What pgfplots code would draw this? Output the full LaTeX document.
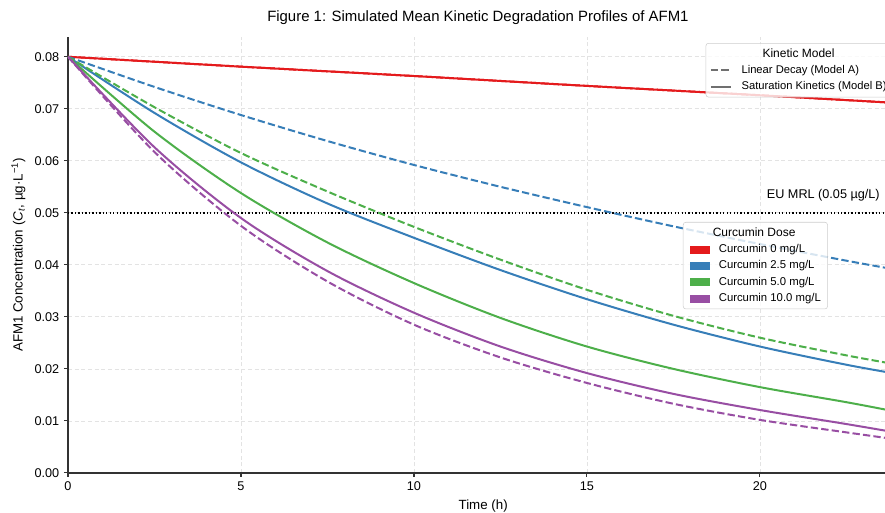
\documentclass[border=0pt]{standalone}
\usepackage{fontspec}
\setmainfont{Liberation Sans}
\usepackage{pgfplots}
\pgfplotsset{compat=1.18}
\usetikzlibrary{calc}

\definecolor{cred}{HTML}{E41A1C}
\definecolor{cblue}{HTML}{377EB8}
\definecolor{cgreen}{HTML}{4DAF4A}
\definecolor{cpurple}{HTML}{984EA3}
\definecolor{axisgray}{HTML}{333333}
\definecolor{leggray}{HTML}{CCCCCC}
\definecolor{handlegray}{HTML}{707070}

\pgfplotsset{
  base/.style={width=622.8pt, height=327pt, scale only axis,
    xmin=0, xmax=24, ymin=0, ymax=0.0838, at={(0,0)}, anchor=south west},
  modelA/.style={line width=1.5pt, dash pattern=on 5.5pt off 2.4pt},
  modelB/.style={line width=1.5pt},
  legbox/.style={draw=leggray, fill=white, fill opacity=0.8, text opacity=1,
    draw opacity=1, rounded corners=2pt, inner ysep=2pt,
    row sep=0.6pt, font=\fontsize{8.5}{10}\selectfont},
}

\begin{document}
\begin{tikzpicture}
\begin{axis}[base, name=main,
  axis lines=left, axis line style={-, line width=0.9pt, color=axisgray},
  tick align=outside, major tick length=3pt,
  tick style={line width=0.8pt, color=axisgray},
  xtick={0,5,10,15,20},
  ytick={0,0.01,0.02,0.03,0.04,0.05,0.06,0.07,0.08},
  scaled y ticks=false,
  yticklabel style={/pgf/number format/fixed, /pgf/number format/fixed zerofill,
    /pgf/number format/precision=2},
  /pgf/number format/assume math mode=true,
  tick label style={font=\fontsize{9.5}{11}\selectfont},
  grid=major, grid style={dash pattern=on 3pt off 2pt, color=gray!22, line width=0.6pt},
  xlabel={Time (h)},
  ylabel={AFM1 Concentration (\textit{C}\textsubscript{\textit{t}}, µg·L\textsuperscript{−1})},
  label style={font=\fontsize{10}{12}\selectfont},
  title={Figure 1: Simulated Mean Kinetic Degradation Profiles of AFM1},
  title style={font=\fontsize{11.2}{13}\selectfont, at={(0.4937,1)}, yshift=-0.5pt},
  legend style={legbox, font=\fontsize{8.4}{10}\selectfont, inner xsep=3pt, column sep=5.25pt,
    at={(0.9942,0.9862)}, anchor=north east},
  legend cell align=left,
  legend image code/.code={\draw[#1, draw opacity=1, sharp corners] (0pt,0pt) -- (15pt,0pt);},
]
% threshold
\addplot[forget plot, black, line width=1.1pt, dash pattern=on 1pt off 1.6pt]
  coordinates {(0,0.05) (24,0.05)};
\node[anchor=base east, inner sep=0pt, font=\fontsize{9.5}{11}\selectfont]
  at (axis cs:23.47,0.0527) {EU MRL (0.05 µg/L)};

% Curcumin 0 mg/L
\addplot[forget plot, cred, modelA, smooth] coordinates {
  (0,0.0800) (5,0.0781) (10,0.0763) (15,0.0744) (20,0.0726) (24,0.0711)};
\addplot[forget plot, cred, modelB, smooth] coordinates {
  (0,0.0800) (5,0.0781) (10,0.0763) (15,0.0744) (20,0.0726) (24,0.0711)};

% Curcumin 2.5 mg/L
\addplot[forget plot, cblue, modelA, smooth] coordinates {
  (0,0.0800) (2.5,0.0742) (5,0.0688) (7.5,0.0638) (10,0.0592) (12.5,0.0550)
  (15,0.0511) (17.5,0.0474) (20,0.0440) (22.5,0.0408) (24,0.0390)};
\addplot[forget plot, cblue, modelB, smooth] coordinates {
  (0,0.0800) (2.5,0.0692) (5,0.0597) (7.5,0.0518) (10,0.0452) (12.5,0.0390)
  (15,0.0334) (17.5,0.0285) (20,0.0243) (22.5,0.0208) (24,0.0190)};

% Curcumin 5.0 mg/L
\addplot[forget plot, cgreen, modelA, smooth] coordinates {
  (0,0.0800) (2.5,0.0703) (5,0.0615) (7.5,0.0541) (10,0.0473) (12.5,0.0410)
  (15,0.0352) (17.5,0.0302) (20,0.0260) (22.5,0.0226) (24,0.0208)};
\addplot[forget plot, cgreen, modelB, smooth] coordinates {
  (0,0.0800) (2.5,0.0656) (5,0.0538) (7.5,0.0443) (10,0.0365) (12.5,0.0298)
  (15,0.0243) (17.5,0.0200) (20,0.0165) (22.5,0.0136) (24,0.0117)};

% Curcumin 10.0 mg/L
\addplot[forget plot, cpurple, modelA, smooth] coordinates {
  (0,0.0800) (2.5,0.0617) (5,0.0475) (7.5,0.0368) (10,0.0285) (12.5,0.0222)
  (15,0.0173) (17.5,0.0133) (20,0.0102) (22.5,0.0078) (24,0.0064)};
\addplot[forget plot, cpurple, modelB, smooth] coordinates {
  (0,0.0800) (2.5,0.0626) (5,0.0490) (7.5,0.0388) (10,0.0308) (12.5,0.0243)
  (15,0.0192) (17.5,0.0152) (20,0.0121) (22.5,0.0094) (24,0.0077)};

\addlegendimage{legend image code/.code={}}
\addlegendentry{\fontsize{9}{10}\selectfont\hspace*{15.75pt}Kinetic Model}
\addlegendimage{handlegray, modelA}
\addlegendentry{Linear Decay (Model A)}
\addlegendimage{handlegray, modelB}
\addlegendentry{Saturation Kinetics (Model B)}
\end{axis}

\begin{axis}[base, hide axis,
  legend style={legbox, inner xsep=3pt, column sep=5pt,
    at={(0.7406,0.5757)}, anchor=north west},
  legend cell align=left,
  legend image code/.code={\fill[#1, fill opacity=1, sharp corners] (2pt,-2.6pt) rectangle (16.5pt,2.6pt);},
]
\addlegendimage{legend image code/.code={}}
\addlegendentry{\fontsize{9}{10}\selectfont\hspace*{-4.5pt}Curcumin Dose}
\addlegendimage{cred}
\addlegendentry{Curcumin 0 mg/L}
\addlegendimage{cblue}
\addlegendentry{Curcumin 2.5 mg/L}
\addlegendimage{cgreen}
\addlegendentry{Curcumin 5.0 mg/L}
\addlegendimage{cpurple}
\addlegendentry{Curcumin 10.0 mg/L}
\end{axis}

\pgfresetboundingbox
\path[use as bounding box] ($(main.south west)+(-51pt,-30pt)$)
  rectangle ($(main.north east)+(-10pt,27.75pt)$);
\end{tikzpicture}
\end{document}
